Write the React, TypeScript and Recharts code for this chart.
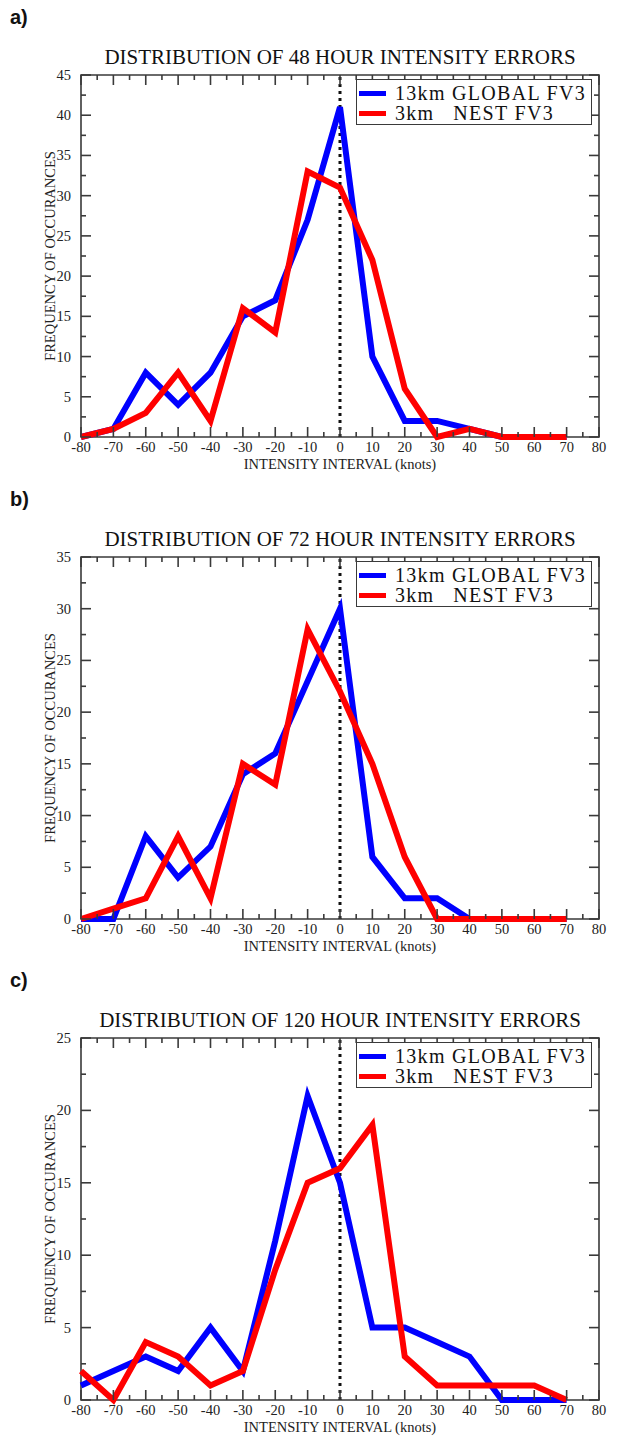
import React from 'react'
import { LineChart, Line, XAxis, YAxis, ReferenceLine, ReferenceArea, Legend } from 'recharts'

const SERIF = "'Liberation Serif', 'Times New Roman', serif"
const FRAME = '#3a3a3a'
const BLUE = '#0000ff'
const RED = '#ff0000'

// knots, one bin every 10
const intervals = [-80, -70, -60, -50, -40, -30, -20, -10, 0, 10, 20, 30, 40, 50, 60, 70]

const global48 = [0, 1, 8, 4, 8, 15, 17, 27, 41, 10, 2, 2, 1, 0, 0, 0]
const nest48 = [0, 1, 3, 8, 2, 16, 13, 33, 31, 22, 6, 0, 1, 0, 0, 0]

const global72 = [0, 0, 8, 4, 7, 14, 16, 23, 30, 6, 2, 2, 0, 0, 0, 0]
const nest72 = [0, 1, 2, 8, 2, 15, 13, 28, 22, 15, 6, 0, 0, 0, 0, 0]

const global120 = [1, 2, 3, 2, 5, 2, 11, 21, 15, 5, 5, 4, 3, 0, 0, 0]
const nest120 = [2, 0, 4, 3, 1, 2, 9, 15, 16, 19, 3, 1, 1, 1, 1, 0]

const xTickLabels = [-80, -70, -60, -50, -40, -30, -20, -10, 0, 10, 20, 30, 40, 50, 60, 70, 80]
const yTickLabels48 = [0, 5, 10, 15, 20, 25, 30, 35, 40, 45]
const yTickLabels72 = [0, 5, 10, 15, 20, 25, 30, 35]
const yTickLabels120 = [0, 5, 10, 15, 20, 25]

const seriesNames = ['13km GLOBAL FV3', '3km   NEST FV3']

// chart box layout
const W = 620
const H = 483
const MARGIN = { top: 75, right: 21, bottom: 16, left: 51 }
const Y_AXIS_W = 30
const X_AXIS_H = 30
const PW = W - MARGIN.left - MARGIN.right - Y_AXIS_W
const PH = H - MARGIN.top - MARGIN.bottom - X_AXIS_H
const TICK_FONT = 14.5

// add the unlabelled minor ticks half way between labels
const withMinor = (labels: number[]) =>
  labels.flatMap((v, i) => (i < labels.length - 1 ? [v, (v + labels[i + 1]) / 2] : [v]))

const XTick = (props: any) => {
  const { x, y, payload } = props
  const v = payload.value
  const major = v % 10 === 0
  const len = major ? 10 : 5
  return (
    <g>
      <line x1={x} x2={x} y1={y} y2={y - len} stroke={FRAME} strokeWidth={1.6} />
      <line x1={x} x2={x} y1={y - PH} y2={y - PH + len} stroke={FRAME} strokeWidth={1.6} />
      {major && (
        <text x={x} y={y + 15} textAnchor="middle" fontFamily={SERIF} fontSize={TICK_FONT} fill="#222">
          {v}
        </text>
      )}
    </g>
  )
}

const YTick = (props: any) => {
  const { x, y, payload } = props
  const v = payload.value
  const major = v % 5 === 0
  const len = major ? 10 : 5
  return (
    <g>
      <line x1={x} x2={x + len} y1={y} y2={y} stroke={FRAME} strokeWidth={1.6} />
      <line x1={x + PW} x2={x + PW - len} y1={y} y2={y} stroke={FRAME} strokeWidth={1.6} />
      {major && (
        <text x={x - 10} y={y + 5} textAnchor="end" fontFamily={SERIF} fontSize={TICK_FONT} fill="#222">
          {v}
        </text>
      )}
    </g>
  )
}

const renderLegend = (props: any) => (
  <div
    style={{
      boxSizing: 'border-box',
      width: 236,
      height: 46,
      border: `1.5px solid ${FRAME}`,
      background: '#fff',
      padding: '3px 0 0 2px',
    }}
  >
    {(props.payload || []).map((entry: any) => (
      <div key={entry.value} style={{ display: 'flex', alignItems: 'center', height: 20 }}>
        <span style={{ display: 'inline-block', width: 27, height: 5, background: entry.color, marginRight: 9 }} />
        <span style={{ fontFamily: SERIF, fontSize: 20, lineHeight: '20px', letterSpacing: 1.3, whiteSpace: 'pre', color: '#111' }}>
          {entry.value}
        </span>
      </div>
    ))}
  </div>
)

function Panel({
  top, tag, hours, blue, red, yLabels,
}: {
  top: number
  tag: string
  hours: number
  blue: number[]
  red: number[]
  yLabels: number[]
}) {
  const rows = intervals.map((x, i) => ({ x, global: blue[i], nest: red[i] }))
  const yMax = yLabels[yLabels.length - 1]
  return (
    <div style={{ position: 'absolute', left: 0, top, width: W, height: H }}>
      <div style={{ position: 'absolute', left: 10, top: 6, fontFamily: "'Liberation Sans', Arial, sans-serif", fontWeight: 700, fontSize: 20, lineHeight: '22px', color: '#111' }}>
        {tag}
      </div>
      <div style={{ position: 'absolute', left: MARGIN.left + Y_AXIS_W, top: 45, width: PW, textAlign: 'center', fontFamily: SERIF, fontSize: 21, lineHeight: '24px', color: '#111', whiteSpace: 'nowrap' }}>
        DISTRIBUTION OF {hours} HOUR INTENSITY ERRORS
      </div>
      <div style={{ position: 'absolute', left: 0, top: 0 }}>
        <LineChart width={W} height={H} data={rows} margin={MARGIN}>
          <XAxis
            dataKey="x"
            type="number"
            domain={[-80, 80]}
            ticks={withMinor(xTickLabels)}
            interval={0}
            height={X_AXIS_H}
            tickSize={0}
            tickMargin={0}
            axisLine={false}
            tickLine={false}
            tick={<XTick />}
            label={{ value: 'INTENSITY INTERVAL (knots)', position: 'insideBottom', offset: -2, style: { fontFamily: SERIF, fontSize: 14.5, fill: '#222' } }}
          />
          <YAxis
            type="number"
            domain={[0, yMax]}
            ticks={withMinor(yLabels)}
            interval={0}
            width={Y_AXIS_W}
            tickSize={0}
            tickMargin={0}
            axisLine={false}
            tickLine={false}
            tick={<YTick />}
            label={{ value: 'FREQUENCY OF OCCURANCES', angle: -90, position: 'insideLeft', offset: -1, style: { textAnchor: 'middle', fontFamily: SERIF, fontSize: 14.5, fill: '#222' } }}
          />
          <ReferenceArea x1={-80} x2={80} y1={0} y2={yMax} fill="none" stroke={FRAME} strokeWidth={1.6} ifOverflow="visible" />
          <ReferenceLine x={0} stroke="#111" strokeWidth={3} strokeDasharray="3 4" />
          <Line dataKey="global" name={seriesNames[0]} type="linear" stroke={BLUE} strokeWidth={6} dot={false} activeDot={false} isAnimationActive={false} />
          <Line dataKey="nest" name={seriesNames[1]} type="linear" stroke={RED} strokeWidth={6} dot={false} activeDot={false} isAnimationActive={false} />
          <Legend
            layout="vertical"
            align="center"
            verticalAlign="middle"
            content={renderLegend}
            wrapperStyle={{ left: 356, top: MARGIN.top + 4, width: 236, height: 46 }}
          />
        </LineChart>
      </div>
    </div>
  )
}

export default function App() {
  return (
    <div style={{ position: 'absolute', left: 0, top: 0, width: 620, height: 1449, background: '#fff', overflow: 'hidden' }}>
      <Panel top={0} tag="a)" hours={48} blue={global48} red={nest48} yLabels={yTickLabels48} />
      <Panel top={482} tag="b)" hours={72} blue={global72} red={nest72} yLabels={yTickLabels72} />
      <Panel top={963} tag="c)" hours={120} blue={global120} red={nest120} yLabels={yTickLabels120} />
    </div>
  )
}
